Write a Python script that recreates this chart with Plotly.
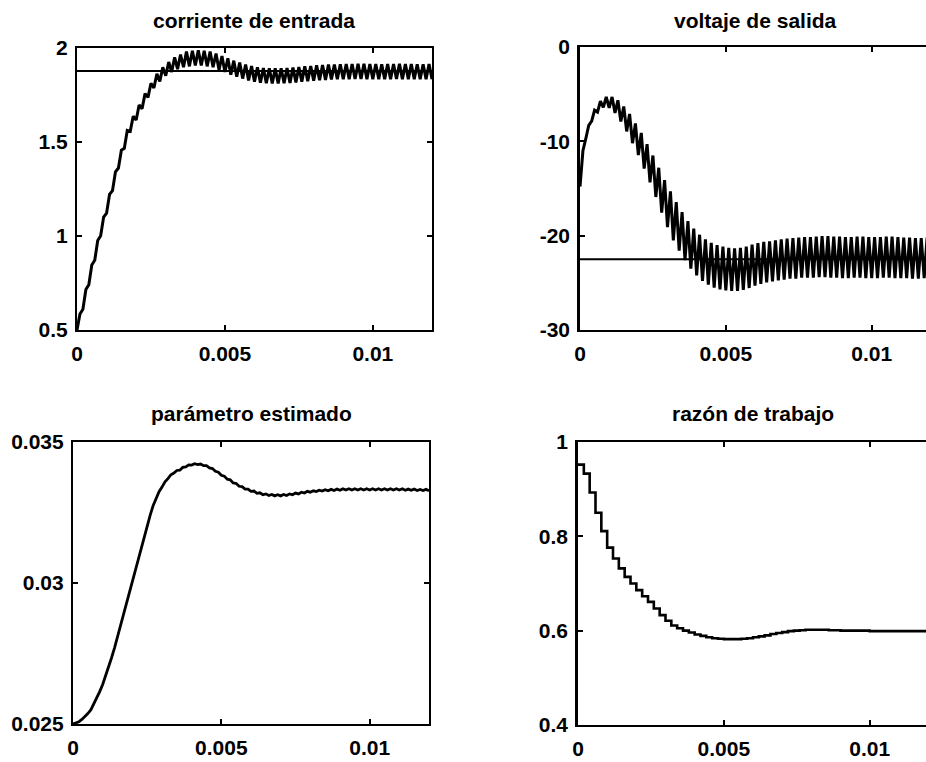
import numpy as np
import plotly.graph_objects as go

# ---------------- data ----------------
T_SW = 0.0002  # switching period (s)

# input current: valleys at k*T (k=0..60), peaks at (k+0.5)*T (k=0..59)
cur_lo = [0.50, 0.61, 0.74, 0.87, 1.00, 1.12, 1.24, 1.36, 1.465, 1.555,
          1.615, 1.675, 1.735, 1.785, 1.82, 1.85, 1.87, 1.885, 1.895, 1.90,
          1.905, 1.905, 1.90, 1.895, 1.88, 1.87, 1.855, 1.845, 1.835, 1.825,
          1.818, 1.813, 1.81, 1.809, 1.809, 1.81, 1.812, 1.815, 1.818, 1.821,
          1.824, 1.826, 1.828, 1.83, 1.831, 1.832, 1.832, 1.833, 1.833, 1.832,
          1.832, 1.831, 1.832, 1.832, 1.833, 1.832, 1.832, 1.831, 1.831, 1.832,
          1.832]
cur_hi = [0.585, 0.715, 0.845, 0.975, 1.10, 1.22, 1.34, 1.455, 1.56, 1.635,
          1.695, 1.755, 1.81, 1.86, 1.895, 1.923, 1.948, 1.963, 1.978, 1.983,
          1.985, 1.983, 1.978, 1.968, 1.955, 1.943, 1.93, 1.92, 1.91, 1.901,
          1.895, 1.891, 1.89, 1.889, 1.89, 1.891, 1.893, 1.896, 1.90, 1.902,
          1.905, 1.907, 1.909, 1.91, 1.911, 1.912, 1.912, 1.913, 1.913, 1.912,
          1.912, 1.911, 1.912, 1.912, 1.913, 1.912, 1.912, 1.911, 1.911, 1.912]
cur_ref = 1.875

# output voltage: valleys at k*T, peaks at (k+0.5)*T
volt_lo = [-14.8, -9.7, -7.85, -6.9, -6.4, -6.45, -7.0, -7.9, -8.95, -10.2,
           -11.45, -12.9, -14.35, -15.9, -17.55, -19.1, -20.5, -21.6, -22.6, -23.5,
           -24.2, -24.8, -25.2, -25.5, -25.7, -25.8, -25.85, -25.85, -25.75, -25.55,
           -25.3, -25.1, -24.95, -24.85, -24.75, -24.65, -24.55, -24.55, -24.45, -24.45,
           -24.45, -24.4, -24.4, -24.45, -24.45, -24.5, -24.5, -24.45, -24.45, -24.5,
           -24.5, -24.5, -24.45, -24.45, -24.5, -24.5, -24.5, -24.55, -24.55, -24.5,
           -24.5]
volt_hi = [-11.0, -8.3, -6.7, -5.75, -5.3, -5.3, -5.65, -6.3, -7.1, -8.1,
           -9.1, -10.3, -11.5, -12.8, -14.1, -15.3, -16.45, -17.5, -18.45, -19.25,
           -19.9, -20.4, -20.75, -21.0, -21.15, -21.3, -21.35, -21.3, -21.15, -20.95,
           -20.8, -20.65, -20.6, -20.5, -20.4, -20.3, -20.25, -20.2, -20.15, -20.15,
           -20.1, -20.05, -20.05, -20.1, -20.1, -20.15, -20.15, -20.1, -20.1, -20.15,
           -20.15, -20.15, -20.1, -20.1, -20.15, -20.2, -20.2, -20.25, -20.25, -20.2]
volt_ref = -22.5

# estimated parameter: at k*T (k=0..60) and at (k+0.5)*T (k=0..59)
param = [0.02500, 0.02508, 0.02525, 0.02550, 0.02590, 0.02640, 0.02700, 0.02770, 0.02850, 0.02930,
         0.03010, 0.03090, 0.03170, 0.03240, 0.03300, 0.03340, 0.03370, 0.03390, 0.03400, 0.03412,
         0.03418, 0.03420, 0.03416, 0.03408, 0.03396, 0.03382, 0.03368, 0.03355, 0.03343, 0.03333,
         0.03325, 0.03318, 0.03313, 0.03310, 0.03309, 0.03309, 0.03310, 0.03313, 0.03316, 0.03319,
         0.03322, 0.03324, 0.03326, 0.03327, 0.03328, 0.03329, 0.03330, 0.03330, 0.03330, 0.03330,
         0.03330, 0.03330, 0.03330, 0.03330, 0.03330, 0.03330, 0.03329, 0.03329, 0.03328, 0.03328,
         0.03327]
param_mid = [0.02504, 0.02516, 0.02537, 0.02570, 0.02615, 0.02670, 0.02735, 0.02810, 0.02890, 0.02970,
             0.03050, 0.03130, 0.03209, 0.03274, 0.03324, 0.03359, 0.03384, 0.03399, 0.03410, 0.03419,
             0.03423, 0.03422, 0.03416, 0.03406, 0.03393, 0.03379, 0.03366, 0.03353, 0.03342, 0.03333,
             0.03326, 0.03320, 0.03316, 0.03314, 0.03313, 0.03314, 0.03316, 0.03319, 0.03322, 0.03325,
             0.03327, 0.03329, 0.03331, 0.03332, 0.03333, 0.03334, 0.03334, 0.03334, 0.03334, 0.03334,
             0.03334, 0.03334, 0.03334, 0.03334, 0.03334, 0.03334, 0.03333, 0.03333, 0.03332, 0.03332]

# duty ratio, one value per switching period (k=0..59)
duty = [0.952, 0.933, 0.893, 0.850, 0.811, 0.776, 0.753, 0.732, 0.714, 0.700,
        0.686, 0.673, 0.661, 0.647, 0.633, 0.621, 0.611, 0.605, 0.600, 0.596,
        0.592, 0.589, 0.586, 0.584, 0.583, 0.582, 0.582, 0.582, 0.583, 0.584,
        0.586, 0.588, 0.590, 0.593, 0.595, 0.597, 0.599, 0.600, 0.601, 0.602,
        0.602, 0.602, 0.602, 0.601, 0.601, 0.600, 0.600, 0.600, 0.600, 0.600,
        0.599, 0.599, 0.599, 0.599, 0.599, 0.599, 0.599, 0.599, 0.599, 0.599]

titles = ["corriente de entrada", "voltaje de salida",
          "parámetro estimado", "razón de trabajo"]
x_ticks = [0, 0.005, 0.01]
x_ticktext = ["0", "0.005", "0.01"]
y_ticks = [[0.5, 1, 1.5, 2], [-30, -20, -10, 0], [0.025, 0.03, 0.035], [0.4, 0.6, 0.8, 1]]
y_ticktext = [["0.5", "1", "1.5", "2"], ["-30", "-20", "-10", "0"],
              ["0.025", "0.03", "0.035"], ["0.4", "0.6", "0.8", "1"]]
y_ranges = [[0.5, 2], [-30, 0], [0.025, 0.035], [0.4, 1]]

# ---------------- build series ----------------
def ripple(lo, hi):
    xs, ys = [], []
    for k in range(len(hi)):
        xs.append(k * T_SW); ys.append(lo[k])
        xs.append((k + 0.5) * T_SW); ys.append(hi[k])
    xs.append(len(hi) * T_SW); ys.append(lo[len(hi)])
    return xs, ys

cx, cy = ripple(cur_lo, cur_hi)
vx, vy = ripple(volt_lo, volt_hi)
px, py = ripple(param, param_mid)
dx = [k * T_SW for k in range(len(duty))] + [len(duty) * T_SW]
dy = duty + [duty[-1]]
t_end = len(duty) * T_SW

line = dict(color="black", width=3)
fig = go.Figure()
fig.add_trace(go.Scatter(x=[0, t_end], y=[cur_ref, cur_ref], mode="lines",
                         line=dict(color="black", width=2), xaxis="x", yaxis="y"))
fig.add_trace(go.Scatter(x=cx, y=cy, mode="lines", line=line, xaxis="x", yaxis="y"))
fig.add_trace(go.Scatter(x=[0, t_end], y=[volt_ref, volt_ref], mode="lines",
                         line=dict(color="black", width=2), xaxis="x2", yaxis="y2"))
fig.add_trace(go.Scatter(x=vx, y=vy, mode="lines", line=line, xaxis="x2", yaxis="y2"))
fig.add_trace(go.Scatter(x=px, y=py, mode="lines", line=dict(color="black", width=2.8),
                         xaxis="x3", yaxis="y3"))
fig.add_trace(go.Scatter(x=dx, y=dy, mode="lines", line=dict(color="black", width=2.6, shape="hv"),
                         xaxis="x4", yaxis="y4"))

W, H = 926, 762
# plot boxes in pixels: left, right(edge at range end), top, bottom
boxes = [(77, 432, 47.5, 330), (580, 930, 47, 330), (73, 429, 442, 724), (578, 928, 442, 725)]
title_y = [20, 20, 413, 413]
font = dict(family="Liberation Sans, Arial, sans-serif", size=21, color="black", weight="bold")

layout = dict(width=W, height=H, margin=dict(l=0, r=0, t=0, b=0, autoexpand=False),
              paper_bgcolor="white", plot_bgcolor="white", showlegend=False,
              font=font, template="none")
annotations = []
for i, (l, r, t, b) in enumerate(boxes):
    sfx = "" if i == 0 else str(i + 1)
    x0 = l / W
    full_span = r - l
    if r > W:
        x1 = 1.0
        xmax = 0.012 * (W - l) / full_span
    else:
        x1 = r / W
        xmax = 0.012
    right_col = i in (1, 3)
    layout["xaxis" + sfx] = dict(
        domain=[x0, x1], range=[0, xmax], anchor="y" + sfx, automargin=False,
        tickvals=x_ticks, ticktext=x_ticktext, ticks="inside", ticklen=5, tickwidth=1.5,
        tickcolor="black", showline=True, linecolor="black", linewidth=2.2,
        mirror="ticks", showgrid=False, zeroline=False, tickfont=font,
        ticklabelstandoff=4)
    layout["yaxis" + sfx] = dict(
        domain=[1 - b / H, 1 - t / H], range=y_ranges[i], anchor="x" + sfx, automargin=False,
        tickvals=y_ticks[i], ticktext=y_ticktext[i], ticks="inside", ticklen=5, tickwidth=1.5,
        tickcolor="black", showline=True, linecolor="black", linewidth=2.6 if right_col else 2.2,
        mirror=False if right_col else "ticks", showgrid=False, zeroline=False,
        tickfont=font, ticklabelstandoff=3)
    annotations.append(dict(text=titles[i], xref="paper", yref="paper",
                            x=((l + r) / 2) / W, y=1 - title_y[i] / H,
                            xanchor="center", yanchor="middle", showarrow=False,
                            font=font))
layout["annotations"] = annotations
fig.update_layout(**layout)
fig.write_html("out.html")
